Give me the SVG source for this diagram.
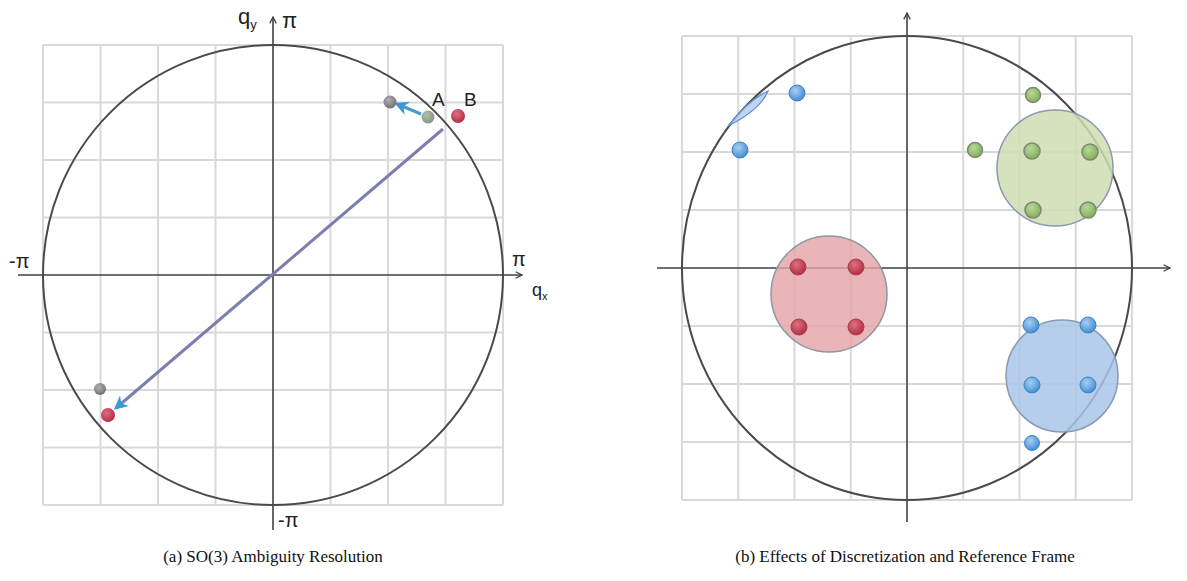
<svg xmlns="http://www.w3.org/2000/svg" width="1187" height="581" viewBox="0 0 1187 581">
<style>
.grid{stroke:#d9d9d9;stroke-width:2;fill:none}
.axis{stroke:#404040;stroke-width:1.6;fill:none}
.ring{stroke:#4a4a4a;stroke-width:2;fill:none}
.lbl{font-family:"Liberation Sans",Arial,sans-serif;fill:#222}
.cap{font-family:"Liberation Serif","Times New Roman",serif;font-size:17px;fill:#111}
.bd{stroke:#3c86c8;stroke-width:1;fill:url(#gb)}
.gd{stroke:#7a8a70;stroke-width:1.5;fill:url(#gg)}
.rd{stroke:#a84050;stroke-width:1;fill:url(#gr)}
</style>
<defs>
<radialGradient id="gb" cx="0.4" cy="0.35" r="0.7"><stop offset="0" stop-color="#a8d0f4"/><stop offset="1" stop-color="#3d88d0"/></radialGradient>
<radialGradient id="gg" cx="0.4" cy="0.35" r="0.7"><stop offset="0" stop-color="#b8d898"/><stop offset="1" stop-color="#7fab58"/></radialGradient>
<radialGradient id="gr" cx="0.4" cy="0.35" r="0.7"><stop offset="0" stop-color="#e07080"/><stop offset="1" stop-color="#b02840"/></radialGradient>
<radialGradient id="ggray" cx="0.4" cy="0.35" r="0.7"><stop offset="0" stop-color="#b0b0b0"/><stop offset="1" stop-color="#6e6e6e"/></radialGradient>
<radialGradient id="ggreen" cx="0.4" cy="0.35" r="0.7"><stop offset="0" stop-color="#b0c0a8"/><stop offset="1" stop-color="#7e9482"/></radialGradient>
<marker id="ah" viewBox="0 0 10 10" refX="9" refY="5" markerWidth="8" markerHeight="8" orient="auto" markerUnits="userSpaceOnUse"><path d="M1,1 L9,5 L1,9" fill="none" stroke="#404040" stroke-width="1.6"/></marker>
<marker id="bh" viewBox="0 0 10 10" refX="8" refY="5" markerWidth="14" markerHeight="14" orient="auto" markerUnits="userSpaceOnUse"><path d="M0,0 L10,5 L0,10 L3,5 Z" fill="#3a9ad0"/></marker>
</defs>

<!-- ===== Panel (a) ===== -->
<g id="gridA" class="grid">
<path d="M43,45V505M100.5,45V505M158,45V505M215.5,45V505M330.5,45V505M388,45V505M445.5,45V505M503,45V505"/>
<path d="M43,45H503M43,102.5H503M43,160H503M43,217.5H503M43,332.5H503M43,390H503M43,447.5H503M43,505H503"/>
</g>
<g id="axesA">
<line class="axis" x1="18" y1="275" x2="522" y2="275" marker-end="url(#ah)"/>
<line class="axis" x1="273" y1="530" x2="273" y2="17" marker-end="url(#ah)"/>
</g>
<g id="circleA"><circle class="ring" cx="273" cy="275" r="230"/></g>
<g id="labelsA" class="lbl">
<text x="238" y="24" font-size="22">q<tspan font-size="13" dy="5">y</tspan></text>
<text x="282" y="28" font-size="22">π</text>
<text x="9" y="268" font-size="20">-π</text>
<text x="512" y="266" font-size="20">π</text>
<text x="532" y="296" font-size="18">q<tspan font-size="11" dy="4">x</tspan></text>
<text x="278" y="527" font-size="20">-π</text>
<text x="432" y="106" font-size="19">A</text>
<text x="464" y="106" font-size="19">B</text>
</g>
<g id="connectorsA">
<line x1="443" y1="129" x2="116" y2="408" stroke="#7c7fae" stroke-width="3" marker-end="url(#bh)"/>
<line x1="421" y1="114" x2="397" y2="104" stroke="#4a9ad0" stroke-width="3" marker-end="url(#bh)"/>
</g>
<g id="pointsA">
<circle cx="390" cy="102" r="6.5" fill="url(#ggray)"/>
<circle cx="428" cy="117" r="6.5" fill="url(#ggreen)"/>
<circle cx="458" cy="116" r="7" fill="url(#gr)"/>
<circle cx="100" cy="389" r="6" fill="url(#ggray)"/>
<circle cx="108" cy="415" r="7" fill="url(#gr)"/>
</g>

<!-- ===== Panel (b) ===== -->
<g id="gridB" class="grid">
<path d="M682,36V500M738.25,36V500M794.5,36V500M850.75,36V500M963.25,36V500M1019.5,36V500M1075.75,36V500M1132,36V500"/>
<path d="M682,36H1132M682,94H1132M682,152H1132M682,210H1132M682,326H1132M682,384H1132M682,442H1132M682,500H1132"/>
</g>
<g id="axesB">
<line class="axis" x1="657" y1="268" x2="1170" y2="268" marker-end="url(#ah)"/>
<line class="axis" x1="907" y1="522" x2="907" y2="13" marker-end="url(#ah)"/>
</g>
<g id="circleB"><ellipse class="ring" cx="907" cy="268" rx="225" ry="232"/></g>

<g id="redCluster">
<circle cx="829" cy="294" r="58" fill="#e5a3a8" fill-opacity="0.8" stroke="#8a9aa0" stroke-width="1.5"/>
<circle class="rd" cx="798" cy="267" r="8"/>
<circle class="rd" cx="856" cy="267" r="8"/>
<circle class="rd" cx="799" cy="327" r="8"/>
<circle class="rd" cx="856" cy="327" r="8"/>
</g>
<g id="greenCluster">
<circle cx="1055" cy="168" r="58" fill="#cfdcb3" fill-opacity="0.85" stroke="#8a9ab0" stroke-width="1.5"/>
<circle class="gd" cx="1033" cy="95" r="7.5"/>
<circle class="gd" cx="975" cy="150" r="7.5"/>
<circle class="gd" cx="1032" cy="151" r="8"/>
<circle class="gd" cx="1090" cy="152" r="8"/>
<circle class="gd" cx="1033" cy="210" r="8"/>
<circle class="gd" cx="1088" cy="210" r="8"/>
</g>
<g id="blueCluster">
<circle cx="1062" cy="376" r="56" fill="#a9c6e8" fill-opacity="0.85" stroke="#8a9ab0" stroke-width="1.5"/>
<circle class="bd" cx="1031" cy="325" r="8"/>
<circle class="bd" cx="1088" cy="325" r="8"/>
<circle class="bd" cx="1032" cy="385" r="8"/>
<circle class="bd" cx="1088" cy="385" r="8"/>
<circle class="bd" cx="1032" cy="443" r="7.5"/>
</g>
<g id="blueLens">
<path d="M728,126 Q748,100 768,91 Q760,110 728,126 Z" fill="#b8cdf0" fill-opacity="0.85" stroke="#5a8ad0" stroke-width="1.2"/>
<circle class="bd" cx="740" cy="150" r="8"/>
<circle class="bd" cx="797" cy="93" r="8"/>
</g>

<g id="captions">
<text class="cap" x="273" y="562" text-anchor="middle">(a) SO(3) Ambiguity Resolution</text>
<text class="cap" x="905" y="562" text-anchor="middle">(b) Effects of Discretization and Reference Frame</text>
</g>
</svg>
